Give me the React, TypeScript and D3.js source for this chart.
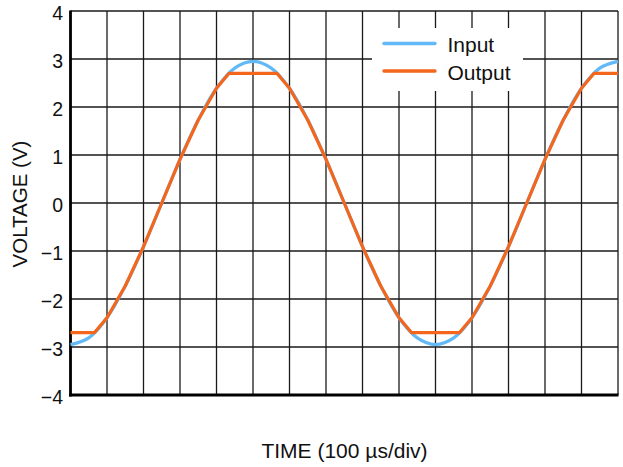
import React from "react";
import * as d3 from "d3";

const xTicks = [0, 1, 2, 3, 4, 5, 6, 7, 8, 9, 10, 11, 12, 13, 14, 15];
const yTicks = [-4, -3, -2, -1, 0, 1, 2, 3, 4];
const yTickLabels = ["\u22124", "\u22123", "\u22122", "\u22121", "0", "1", "2", "3", "4"];

const inputTime = [0, 0.5, 1, 1.5, 2, 2.5, 3, 3.5, 4, 4.5, 5, 5.5, 6, 6.5, 7, 7.5, 8, 8.5, 9, 9.5, 10, 10.5, 11, 11.5, 12, 12.5, 13, 13.5, 14, 14.5, 15];
const inputVolts = [-2.95, -2.81, -2.39, -1.73, -0.91, 0, 0.91, 1.73, 2.39, 2.81, 2.95, 2.81, 2.39, 1.73, 0.91, 0, -0.91, -1.73, -2.39, -2.81, -2.95, -2.81, -2.39, -1.73, -0.91, 0, 0.91, 1.73, 2.39, 2.81, 2.95];

const outputTime = [0, 0.66, 1, 1.5, 2, 2.5, 3, 3.5, 4, 4.34, 5.66, 6, 6.5, 7, 7.5, 8, 8.5, 9, 9.34, 10.66, 11, 11.5, 12, 12.5, 13, 13.5, 14, 14.34, 15];
const outputVolts = [-2.7, -2.7, -2.39, -1.73, -0.91, 0, 0.91, 1.73, 2.39, 2.7, 2.7, 2.39, 1.73, 0.91, 0, -0.91, -1.73, -2.39, -2.7, -2.7, -2.39, -1.73, -0.91, 0, 0.91, 1.73, 2.39, 2.7, 2.7];

const seriesNames = ["Input", "Output"];
const seriesColors = ["#62B9F6", "#F4661C"];

export default function App() {
  const W = 623, H = 467;
  const x = d3.scaleLinear().domain([0, 15]).range([70.5, 618]);
  const y = d3.scaleLinear().domain([-4, 4]).range([395, 11]);
  const font = "'Liberation Sans', Arial, Helvetica, sans-serif";

  const inPts: [number, number][] = inputTime.map((t, i) => [t, inputVolts[i]]);
  const outPts: [number, number][] = outputTime.map((t, i) => [t, outputVolts[i]]);

  const inLine = d3.line<[number, number]>().x(d => x(d[0])).y(d => y(d[1])).curve(d3.curveCatmullRom);
  const outLine = d3.line<[number, number]>().x(d => x(d[0])).y(d => y(d[1])).curve(d3.curveLinear);

  return (
    <svg width={W} height={H} style={{ position: "absolute", left: 0, top: 0, background: "#fff" }} fontFamily={font}>
      {/* grid */}
      {xTicks.map(t => (
        <line key={"gx" + t} x1={x(t)} x2={x(t)} y1={y(4)} y2={y(-4)} stroke="#1a1a1a" strokeWidth={1.3} />
      ))}
      {yTicks.map(t => (
        <line key={"gy" + t} x1={x(0)} x2={x(15)} y1={y(t)} y2={y(t)} stroke="#1a1a1a" strokeWidth={1.3} />
      ))}
      {/* legend box */}
      <rect x={372} y={28} width={151} height={63} fill="#fff" />
      {/* axes */}
      <line x1={x(0)} x2={x(0)} y1={y(4) - 0.5} y2={y(-4) + 1.5} stroke="#000" strokeWidth={2.8} />
      <line x1={x(0) - 1.4} x2={x(15) + 0.5} y1={y(-4)} y2={y(-4)} stroke="#000" strokeWidth={2.8} />
      {/* series */}
      <path d={inLine(inPts) || ""} fill="none" stroke={seriesColors[0]} strokeWidth={3.2} strokeLinejoin="round" />
      <path d={outLine(outPts) || ""} fill="none" stroke={seriesColors[1]} strokeWidth={3.2} strokeLinejoin="round" />
      {/* y tick labels */}
      {yTicks.map((t, i) => (
        <text key={"yl" + t} x={63} y={y(t) + 1.5} textAnchor="end" dominantBaseline="central" fontSize={19.5} fill="#111">
          {yTickLabels[i]}
        </text>
      ))}
      {/* legend */}
      {seriesNames.map((n, i) => (
        <g key={n}>
          <line x1={384} x2={435} y1={43.5 + i * 27.5} y2={43.5 + i * 27.5} stroke={seriesColors[i]} strokeWidth={3.4} strokeLinecap="round" />
          <text x={447.5} y={44.5 + i * 27.5} dominantBaseline="central" fontSize={21} fill="#111">{n}</text>
        </g>
      ))}
      {/* axis titles */}
      <text transform={`translate(27,204) rotate(-90)`} textAnchor="middle" fontSize={20.5} fill="#111">VOLTAGE (V)</text>
      <text x={344.5} y={458} textAnchor="middle" fontSize={21} fill="#111">TIME (100 µs/div)</text>
    </svg>
  );
}
